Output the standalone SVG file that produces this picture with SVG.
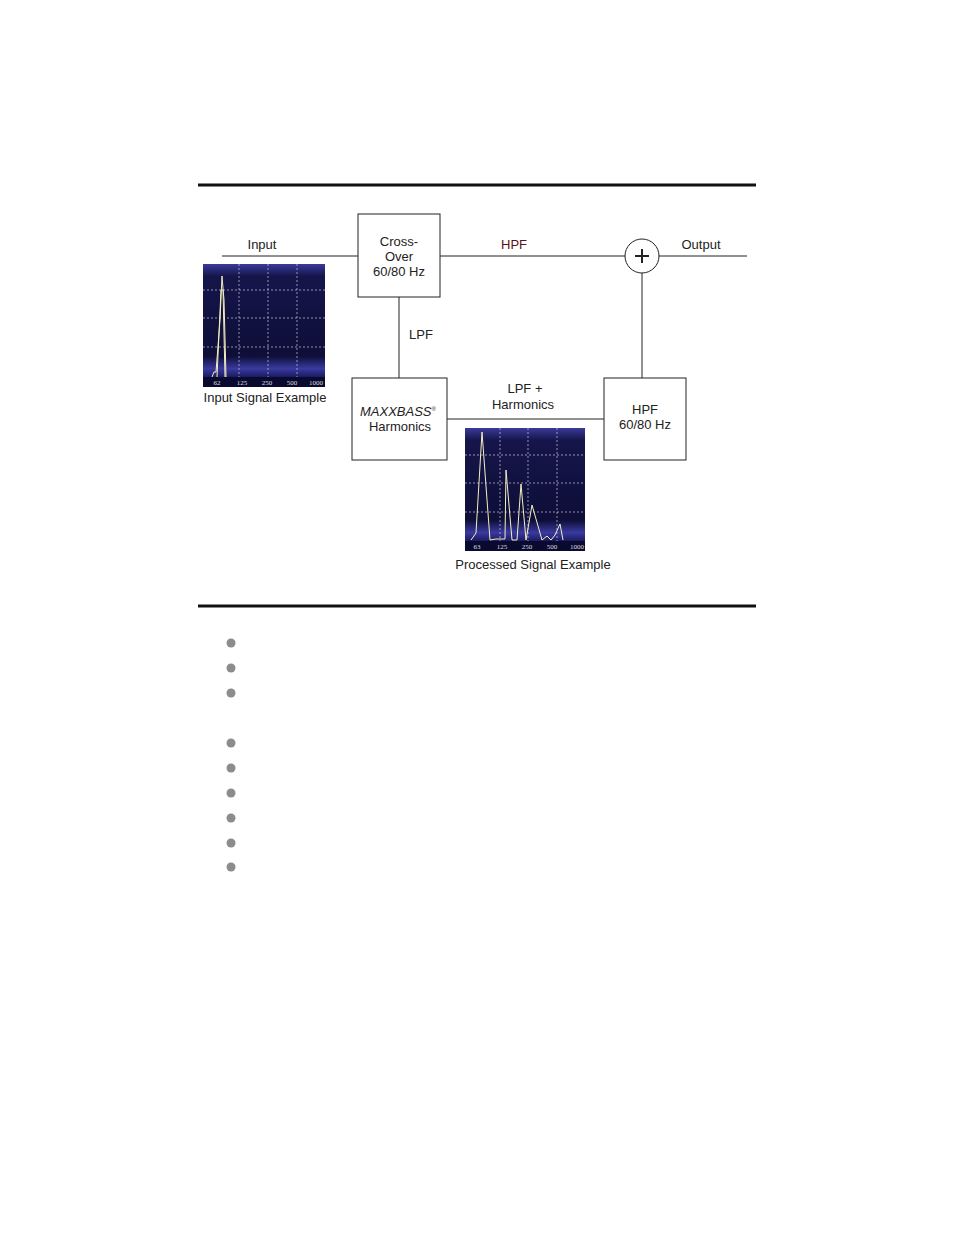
<svg xmlns="http://www.w3.org/2000/svg" width="954" height="1235" viewBox="0 0 954 1235">
<defs>
<style>
text{font-family:"Liberation Sans",Arial,sans-serif;font-size:13px;fill:#222}
.box{fill:#fff;stroke:#222;stroke-width:1}
.ln{stroke:#222;stroke-width:1;fill:none}
.plus{stroke:#222;stroke-width:2;fill:none}
.grid{stroke:#c8c8e0;stroke-width:0.7;stroke-dasharray:2,2;fill:none}
.ax{font-family:"Liberation Serif",serif;font-size:7px;fill:#ddd}
.sig{stroke:#f4f0c0;stroke-width:1;fill:none}
.dot{fill:#8c8c8c}
</style>
<linearGradient id="bg" x1="0" y1="0" x2="0" y2="1">
<stop offset="0" stop-color="#3a3a9a"/><stop offset="0.1" stop-color="#15154a"/><stop offset="0.75" stop-color="#0e0e38"/><stop offset="0.85" stop-color="#3a3aa0"/><stop offset="0.92" stop-color="#1a1a60"/><stop offset="1" stop-color="#0a0a30"/>
</linearGradient>
</defs>
<rect width="954" height="1235" fill="#fff"/>
<line x1="198" y1="185" x2="756" y2="185" stroke="#111" stroke-width="3"/>
<line x1="198" y1="606" x2="756" y2="606" stroke="#111" stroke-width="3"/>
<g id="connectors">
<line class="ln" x1="222" y1="256" x2="358" y2="256"/>
<line class="ln" x1="440" y1="256" x2="625" y2="256"/>
<line class="ln" x1="659" y1="256" x2="747" y2="256"/>
<line class="ln" x1="399" y1="297" x2="399" y2="378"/>
<line class="ln" x1="447" y1="419" x2="604" y2="419"/>
<line class="ln" x1="642" y1="273" x2="642" y2="378"/>
</g>
<g id="crossover"><rect class="box" x="358" y="214" width="82" height="83"/>
<text x="399" y="246" text-anchor="middle">Cross-</text><text x="399" y="261" text-anchor="middle">Over</text><text x="399" y="276" text-anchor="middle">60/80 Hz</text></g>
<g id="maxxbass"><rect class="box" x="352" y="378" width="95" height="82"/>
<text x="398" y="416" text-anchor="middle"><tspan font-style="italic">MAXXBASS</tspan><tspan font-size="6" dy="-5">®</tspan></text>
<text x="400" y="431" text-anchor="middle">Harmonics</text></g>
<g id="hpf"><rect class="box" x="604" y="378" width="82" height="82"/>
<text x="645" y="414" text-anchor="middle">HPF</text><text x="645" y="429" text-anchor="middle">60/80 Hz</text></g>
<g id="sum"><circle cx="642" cy="256" r="17" fill="#fff" stroke="#222"/>
<path class="plus" d="M635 256H649M642 249V263"/></g>
<g id="labels">
<text x="262" y="249" text-anchor="middle">Input</text>
<text x="514" y="249" text-anchor="middle" style="fill:#5a1018">HPF</text>
<text x="701" y="249" text-anchor="middle">Output</text>
<text x="421" y="339" text-anchor="middle">LPF</text>
<text x="525" y="393" text-anchor="middle">LPF +</text>
<text x="523" y="409" text-anchor="middle">Harmonics</text>
<text x="265" y="402" text-anchor="middle">Input Signal Example</text>
<text x="533" y="569" text-anchor="middle">Processed Signal Example</text>
</g>
<g id="input-plot">
<rect x="203" y="264" width="122" height="123" fill="url(#bg)"/>
<path class="grid" d="M239 264V377M268 264V377M297 264V377M203 290H325M203 318H325M203 347H325"/>
<rect x="203" y="377" width="122" height="10" fill="#0a0a30"/>
<path class="sig" d="M212 377L214 372L216 372L220 320L222 276L224 300L226 377"/>
<path class="sig" d="M217 377L221 290L223 290L225 377" stroke-width="0.6"/>
<text class="ax" x="217" y="385" text-anchor="middle">62</text><text class="ax" x="242" y="385" text-anchor="middle">125</text><text class="ax" x="267" y="385" text-anchor="middle">250</text><text class="ax" x="292" y="385" text-anchor="middle">500</text><text class="ax" x="316" y="385" text-anchor="middle">1000</text>
</g>
<g id="processed-plot">
<rect x="465" y="428" width="120" height="123" fill="url(#bg)"/>
<path class="grid" d="M500 428V541M528 428V541M557 428V541M465 455H585M465 483H585M465 512H585"/>
<rect x="465" y="541" width="120" height="10" fill="#0a0a30"/>
<path class="sig" d="M471 540L476 533L482 432L490 540L496 539L505 539L506 470L512 540L517 540L521 484L526 540L532 505L542 540L547 536L551 540L555 535L560 524L563 540"/>
<text class="ax" x="477" y="549" text-anchor="middle">63</text><text class="ax" x="502" y="549" text-anchor="middle">125</text><text class="ax" x="527" y="549" text-anchor="middle">250</text><text class="ax" x="552" y="549" text-anchor="middle">500</text><text class="ax" x="577" y="549" text-anchor="middle">1000</text>
</g>
<g id="bullets">
<circle class="dot" cx="231" cy="643" r="4.5"/><circle class="dot" cx="231" cy="668" r="4.5"/><circle class="dot" cx="231" cy="693" r="4.5"/>
<circle class="dot" cx="231" cy="743" r="4.5"/><circle class="dot" cx="231" cy="768" r="4.5"/><circle class="dot" cx="231" cy="793" r="4.5"/><circle class="dot" cx="231" cy="818" r="4.5"/><circle class="dot" cx="231" cy="843" r="4.5"/><circle class="dot" cx="231" cy="867" r="4.5"/>
</g>
</svg>
